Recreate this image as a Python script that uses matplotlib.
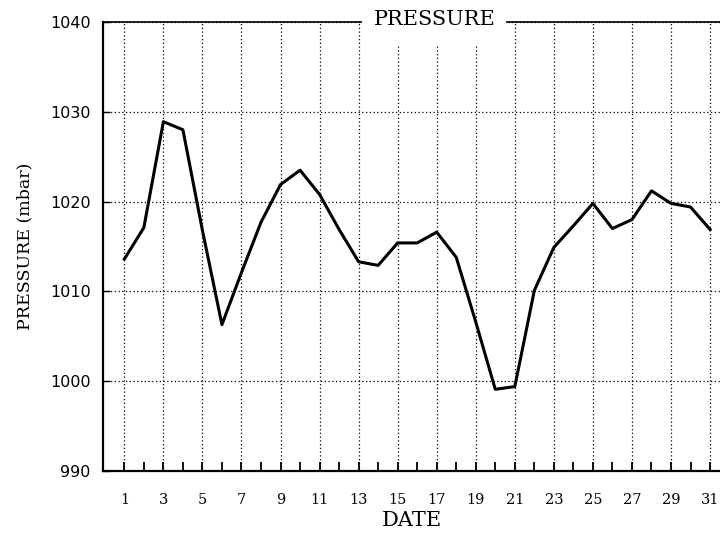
import numpy as np
import matplotlib
matplotlib.use("Agg")
import matplotlib.pyplot as plt
from matplotlib.patches import Rectangle
from matplotlib.ticker import FixedLocator

#=====================data===============
days = list(range(1, 32))
pressure = [1013.6, 1017.1, 1028.9, 1028.0, 1016.8, 1006.3, 1012.1, 1017.7,
            1021.9, 1023.5, 1020.8, 1016.9, 1013.3, 1012.9, 1015.4, 1015.4,
            1016.6, 1013.8, 1006.6, 999.1, 999.4, 1010.1, 1014.9, 1017.3,
            1019.8, 1017.0, 1018.0, 1021.2, 1019.8, 1019.4, 1016.9]
xtick_days = list(range(1, 32, 2))
ytick_vals = [990, 1000, 1010, 1020, 1030, 1040]

#=====================plot===============
fig = plt.figure(figsize=(7.2, 5.33), dpi=100)
ax = fig.add_axes([0.1435, 0.1163, 0.8565, 0.8424])

ax.plot(days, pressure, color='black', linewidth=2.2, zorder=2)

ax.set_xlim(-0.076, 31.51)
ax.set_ylim(990, 1040)

ax.xaxis.set_major_locator(FixedLocator(xtick_days))
ax.xaxis.set_minor_locator(FixedLocator(days))  # a tick on every day
ax.yaxis.set_major_locator(FixedLocator(ytick_vals))

ax.grid(True, which='major', color='black', linestyle=(0, (1, 2)), linewidth=0.9, zorder=1)

ax.tick_params(axis='x', which='both', direction='in', length=6.5, width=1.3,
               top=False, pad=16, labelsize=10.5)
ax.tick_params(axis='y', which='major', direction='in', length=5, width=1.0,
               right=False, pad=9, labelsize=11.5)
for lab in ax.get_xticklabels():
    lab.set_family('DejaVu Serif')
for lab in ax.get_yticklabels():
    lab.set_family('DejaVu Sans')

ax.spines['right'].set_visible(False)
for s in ['left', 'bottom']:
    ax.spines[s].set_linewidth(1.6)
ax.spines['top'].set_linewidth(1.2)

ax.set_xlabel('DATE', family='DejaVu Serif', fontsize=15, labelpad=3)
ax.set_ylabel('PRESSURE (mbar)', family='DejaVu Serif', fontsize=12.5, labelpad=12)

#white box over the top frame, with the title inside it
ax.add_patch(Rectangle((0.42, 0.9488), 0.233, 0.1, transform=ax.transAxes,
                       facecolor='white', edgecolor='none', clip_on=False, zorder=3))
ax.text(0.537, 1.0045, 'PRESSURE', transform=ax.transAxes, ha='center', va='center',
        family='DejaVu Serif', fontsize=15, zorder=4)

plt.savefig('out.png', dpi=100)
